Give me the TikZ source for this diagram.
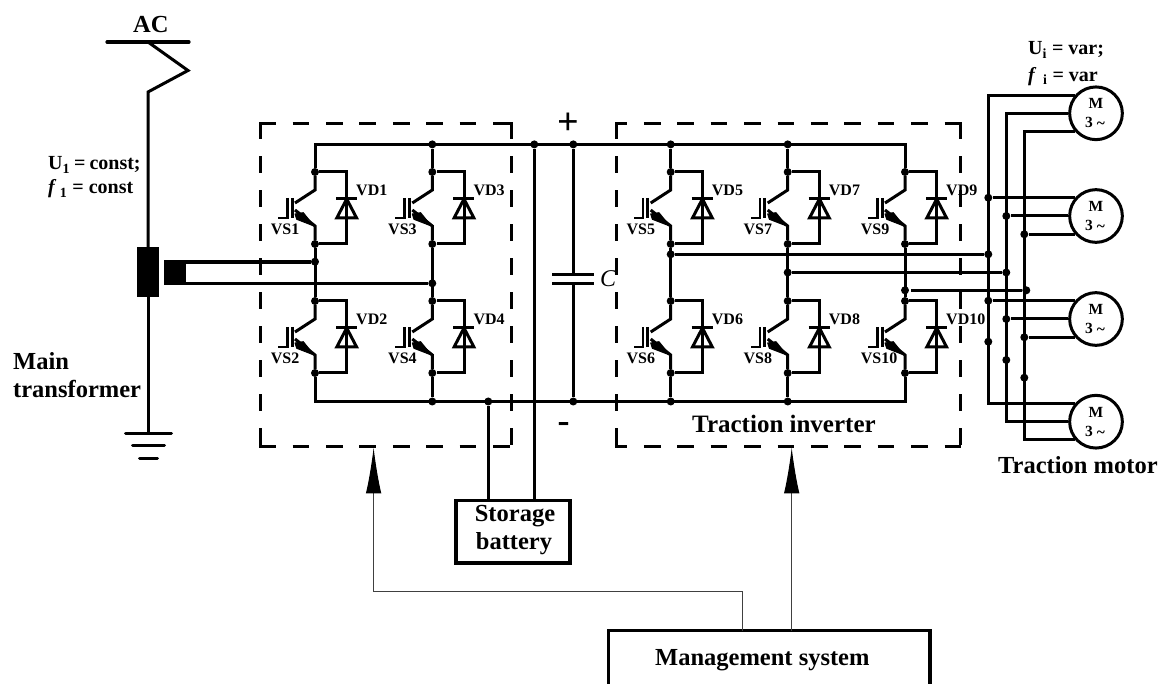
\documentclass[tikz,border=0pt]{standalone}
\usepackage{fontspec}
\setmainfont{Liberation Serif}
\usetikzlibrary{arrows.meta}
\newcommand\fsz[1]{\fontsize{#1}{#1}\selectfont\bfseries}
\tikzset{
  wire/.style={line width=3pt},
  hair/.style={line width=1pt,draw=black!75},
  dot/.style={circle,fill=black,inner sep=0pt,minimum size=8pt},
  boxH/.style={line width=3pt,dash pattern=on 16.7pt off 16.7pt},
  boxV/.style={line width=3pt,dash pattern=on 17pt off 16.97pt},
  lbl/.style={inner sep=0pt,anchor=base west,font=\fsz{16}},
  big/.style={inner sep=0pt,anchor=base west,font=\fsz{24.5}},
  mid/.style={inner sep=0pt,anchor=base west,font=\fsz{20}},
  motor/.style={circle,draw=black,line width=3pt,fill=white,minimum size=52.7pt,inner sep=0pt},
  motxt/.style={inner sep=0pt,anchor=base,font=\fsz{15.5}},
  block/.style={draw=black,line width=3.4pt,fill=white,inner sep=0pt},
  solid block/.style={fill=black,inner sep=0pt},
  sigarrow/.style={hair,-{Latex[length=46pt,width=15.5pt,black]}},
}
\newcommand\igbtcell[5]{%
  \begin{scope}[shift={(#2,#3)}]
    \node[dot] (#1c) at (0,0) {};
    \node[dot] (#1e) at (0,72) {};
    \draw[wire,line join=miter] (#1c) -- (0,18) -- (-20,31);
    \draw[wire,line join=miter] (-20,38) -- (0,54) -- (#1e);
    \draw[line width=3pt] (-22.8,26) -- (-22.8,46);
    \draw[line width=2.6pt] (-27.8,26) -- (-27.8,46) -- (-37,46);
    \draw[line width=1pt,fill=black,line join=round] (-20,42) -- (-11.7,40.7) -- (-1,54) -- (-18.3,47.3) -- cycle;
    \draw[wire] (#1c) -- (31.7,0) -- (31.7,72) -- (#1e);
    \draw[wire] (21,27) -- (42,27);
    \draw[wire,line join=miter] (31.7,27) -- (21.8,46) -- (41.6,46) -- cycle;
    \node[lbl] (#1s) at (-44.3,63) {#4};
    \node[lbl] (#1d) at (41,24) {#5};
  \end{scope}}
\newcommand\motorunit[2]{%
  \node[motor] (#1) at (1096,#2) {};
  \node[motxt] (#1t) at ([yshift=4.3pt]#1.center) {M};
  \node[motxt] (#1b) at ([xshift=-1pt,yshift=-14.4pt]#1.center) {3 \raisebox{-1pt}{\textasciitilde}};}
\begin{document}
\begin{tikzpicture}[x=1pt,y=-1pt]
\useasboundingbox (0,0) rectangle (1163,684);
% --- bridge cells
\igbtcell{q1}{315}{172}{VS1}{VD1}
\igbtcell{q2}{315}{301}{VS2}{VD2}
\igbtcell{q3}{432.3}{172}{VS3}{VD3}
\igbtcell{q4}{432.3}{301}{VS4}{VD4}
\igbtcell{q5}{670.7}{172}{VS5}{VD5}
\igbtcell{q6}{670.7}{301}{VS6}{VD6}
\igbtcell{q7}{787.7}{172}{VS7}{VD7}
\igbtcell{q8}{787.7}{301}{VS8}{VD8}
\igbtcell{q9}{905}{172}{VS9}{VD9}
\igbtcell{q10}{905}{301}{VS10}{VD10}
% --- buses
\coordinate (tl) at (315,144.4);
\coordinate (tr) at (905,144.4);
\coordinate (bl) at (315,401.5);
\coordinate (br) at (905,401.5);
\node[dot] (t3) at (432.3,144.4) {};
\node[dot] (tb) at (534.3,144.4) {};
\node[dot] (tc) at (573.3,144.4) {};
\node[dot] (t5) at (670.7,144.4) {};
\node[dot] (t7) at (787.7,144.4) {};
\node[dot] (b3) at (432.3,401.5) {};
\node[dot] (bb) at (488.3,401.5) {};
\node[dot] (bc) at (573.3,401.5) {};
\node[dot] (b5) at (670.7,401.5) {};
\node[dot] (b7) at (787.7,401.5) {};
\draw[wire,line join=miter] (q1c) -- (tl) -- (tr) -- (q9c);
\draw[wire,line join=miter] (q2e) -- (bl) -- (br) -- (q10e);
\draw[wire] (t3) -- (q3c);
\draw[wire] (t5) -- (q5c);
\draw[wire] (t7) -- (q7c);
\draw[wire] (q4e) -- (b3);
\draw[wire] (q6e) -- (b5);
\draw[wire] (q8e) -- (b7);
\draw[wire] (q1e) -- (q2c);
\draw[wire] (q3e) -- (q4c);
\draw[wire] (q5e) -- (q6c);
\draw[wire] (q7e) -- (q8c);
\draw[wire] (q9e) -- (q10c);
% --- capacitor
\coordinate (cu) at (573.3,274.3);
\coordinate (cl) at (573.3,284);
\draw[wire] (tc) -- (cu);
\draw[wire] (cl) -- (bc);
\draw[wire] (552,274.3) -- (cu) -- (594,274.3);
\draw[wire] (552,284) -- (cl) -- (594,284);
\node[inner sep=0pt,font=\fontsize{24}{24}\selectfont\itshape] (clabel) at (608,279) {C};
\node[inner sep=0pt,font=\fsz{38}] (plus) at (568,124) {+};
\node[inner sep=0pt,font=\fsz{36}] (minus) at (563.7,428) {-};
% --- battery
\node[block,minimum width=114pt,minimum height=62.3pt] (batt) at (512.8,531.8) {};
\node[inner sep=0pt,font=\fsz{24.5}] (batt1) at (515,516) {Storage};
\node[inner sep=0pt,font=\fsz{24.5}] (batt2) at (514,544) {battery};
\draw[wire] (bb) -- (bb |- batt.north);
\draw[wire] (tb) -- (tb |- batt.north);
% --- main transformer
\node[solid block,minimum width=22pt,minimum height=50pt] (T1) at (148,272) {};
\node[solid block,minimum width=22pt,minimum height=25pt] (T2) at (175.2,272.6) {};
\coordinate (acl) at (107,42);
\coordinate (acr) at (189,42);
\coordinate (acj) at (148,42);
\coordinate (z1) at (188,70.5);
\coordinate (z2) at (148,92);
\draw[line width=3.2pt,line cap=round] (acl) -- (acr);
\draw[line width=3pt,line join=miter] (acj) -- (z1) -- (z2) -- (T1.north);
\coordinate (g1) at (148,433.7);
\draw[wire] (T1.south) -- (g1);
\draw[line width=3pt,line cap=round] (125.5,433.7) -- (g1) -- (171.5,433.7);
\coordinate (g2a) at (132.5,446);
\coordinate (g2b) at (164.5,446);
\coordinate (g3a) at (139.5,458.7);
\coordinate (g3b) at (157.5,458.7);
\draw[line width=3pt,line cap=round] (g2a) -- (g2b);
\draw[line width=3pt,line cap=round] (g3a) -- (g3b);
\node[dot] (sa) at (315,261.7) {};
\node[dot] (sb) at (432.3,283.3) {};
\draw[line width=3.8pt] (T2.east |- sa) -- (sa);
\draw[wire] (T2.east |- sb) -- (sb);
% --- dashed boxes
\draw[boxH] (259.2,124) -- (512.5,124);
\draw[boxH] (259.2,446.7) -- (512.5,446.7);
\draw[boxV] (260.7,122.5) -- (260.7,448.2);
\draw[boxV] (511,122.5) -- (511,448.2);
\draw[boxH,dash phase=4.7pt] (615.2,124) -- (961.5,124);
\draw[boxH,dash phase=4.7pt] (615.2,446.7) -- (961.5,446.7);
\draw[boxV] (616.7,122.5) -- (616.7,448.2);
\draw[boxV] (960,122.5) -- (960,448.2);
% --- motors
\motorunit{m1}{113.3}
\motorunit{m2}{216}
\motorunit{m3}{319}
\motorunit{m4}{421.7}
\coordinate (c1) at (988.3,0);
\coordinate (c2) at (1006.3,0);
\coordinate (c3) at (1024.3,0);
\draw[wire,line join=miter] (m1.139) -- (c1 |- m1.139) -- (c1 |- m4.139) -- (m4.139);
\draw[wire,line join=miter] (m1.180) -- (c2 |- m1.180) -- (c2 |- m4.180) -- (m4.180);
\draw[wire,line join=miter] (m1.221) -- (c3 |- m1.221) -- (c3 |- m4.221) -- (m4.221);
\node[dot] (busa1) at (c1 |- m2.139) {};
\node[dot] (busa2) at (c2 |- m2.180) {};
\node[dot] (busa3) at (c3 |- m2.221) {};
\node[dot] (busb1) at (c1 |- m3.139) {};
\node[dot] (busb2) at (c2 |- m3.180) {};
\node[dot] (busb3) at (c3 |- m3.221) {};
\node[dot] (busc1) at (988.3,341.7) {};
\node[dot] (busc2) at (1006.3,360) {};
\node[dot] (busc3) at (1024.3,377.7) {};
\node[dot] (buso1) at (988.3,254.3) {};
\node[dot] (buso2) at (1006.3,272.5) {};
\node[dot] (buso3) at (1026.3,290.3) {};
\draw[wire] (busa1) -- (m2.139);
\draw[wire] (busa2) -- (m2.180);
\draw[wire] (busa3) -- (m2.221);
\draw[wire] (busb1) -- (m3.139);
\draw[wire] (busb2) -- (m3.180);
\draw[wire] (busb3) -- (m3.221);
% --- inverter outputs
\node[dot] (u5) at (670.7,254.3) {};
\node[dot] (u7) at (787.7,272.5) {};
\node[dot] (u9) at (905,290.3) {};
\coordinate (u9s) at (911,290.3);
\draw[wire] (u5) -- (buso1);
\draw[wire] (u7) -- (buso2);
\draw[wire] (u9s) -- (buso3);
% --- management
\coordinate (mgl) at (608.3,686);
\coordinate (mgr) at (930,686);
\coordinate (mgtl) at (608.3,630.7);
\coordinate (mgtr) at (930,630.7);
\draw[line width=3.4pt,line join=miter] (mgl) -- (mgtl) -- (mgtr) -- (mgr);
\coordinate (s1) at (742.3,630.7);
\coordinate (s2) at (791.7,630.7);
\coordinate (k1) at (742.3,591.7);
\coordinate (k2) at (373.6,591.7);
\coordinate (tip1) at (373.6,447.5);
\coordinate (tip2) at (791.7,447.5);
\draw[sigarrow] (s1) -- (k1) -- (k2) -- (tip1);
\draw[sigarrow] (s2) -- (tip2);
% --- texts
\node[big] (ac) at (133,32.5) {AC};
\node[mid] (u1) at (48,170) {U\textsubscript{1}\hspace{-1pt} = \hspace{-1pt}const;};
\node[mid] (f1) at (48,194) {\textit{f}\,\textsubscript{1} = const};
\node[mid] (ui) at (1028,55) {U\textsubscript{i} = var;};
\node[mid] (fi) at (1028,81.7) {\textit{f}\,\,\textsubscript{i} = var};
\node[big] (main1) at (13,370) {Main};
\node[big] (main2) at (13,397.7) {transformer};
\node[big,font=\fsz{25}] (inv) at (692,433) {Traction inverter};
\node[big] (mot) at (998,474) {Traction motor};
\node[big] (mgt) at (655,665) {Management system};
\end{tikzpicture}
\end{document}
